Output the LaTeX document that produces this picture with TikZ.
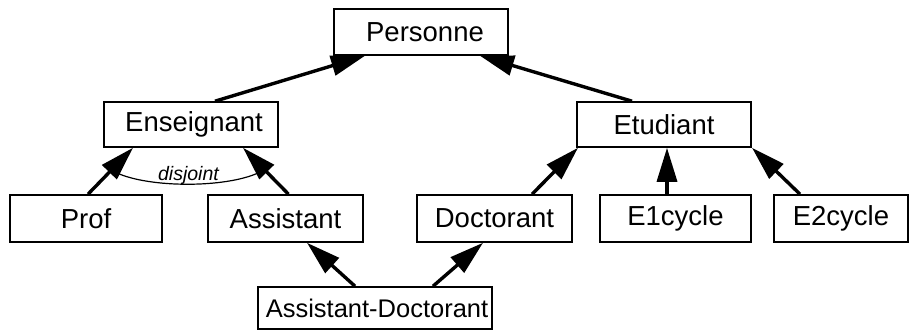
\documentclass[tikz,border=0pt]{standalone}
\usepackage{fontspec}
\setmainfont{Liberation Sans}
\usetikzlibrary{arrows.meta}
\begin{document}
\begin{tikzpicture}[x=1pt,y=-1pt,
  classbox/.style={draw, line width=1.6pt, rectangle, inner sep=0pt,
    font=\fontsize{27.5}{31}\selectfont},
  isa/.style={line width=3.4pt, -{Triangle[length=34pt,width=20pt]}},
  lbl/.style={font=\fontsize{19.5}{22}\selectfont\itshape, inner sep=0pt}]
  \useasboundingbox (0,0) rectangle (910,331);

  % classes
  \node[classbox, minimum width=174pt, minimum height=46pt] (pers) at (421,32) {\hspace*{8pt}Personne};
  \node[classbox, minimum width=174pt, minimum height=45pt] (ens) at (191,124.5) {\hspace*{6pt}Enseignant};
  \node[classbox, minimum width=174pt, minimum height=45pt] (etud) at (664,124.5) {Etudiant};
  \node[classbox, minimum width=152pt, minimum height=47pt] (prof) at (86,218.5) {Prof};
  \node[classbox, minimum width=155pt, minimum height=47pt] (asst) at (285.5,218.5) {Assistant};
  \node[classbox, minimum width=155pt, minimum height=47pt] (doct) at (494.5,218.5) {Doctorant};
  \node[classbox, minimum width=151pt, minimum height=47pt] (eone) at (675.5,218.5) {E1cycle};
  \node[classbox, minimum width=134pt, minimum height=47pt] (etwo) at (841,218.5) {E2cycle};
  \node[classbox, minimum width=234pt, minimum height=42pt, font=\fontsize{25.5}{30}\selectfont] (ad) at (375,308) {\hspace*{4pt}Assistant-Doctorant};

  % generalisation links
  \draw[isa] ([xshift=24pt]ens.north) -- ([xshift=-56pt]pers.south);
  \draw[isa] ([xshift=-32pt]etud.north) -- ([xshift=59pt]pers.south);
  \draw[isa] ([xshift=2pt]prof.north) -- ([xshift=-58pt]ens.south);
  \draw[isa] ([xshift=3pt]asst.north) -- ([xshift=52pt]ens.south);
  \draw[isa] ([xshift=37.5pt]doct.north) -- ([xshift=-86pt]etud.south);
  \draw[isa] ([xshift=-8.5pt]eone.north) -- ([xshift=3pt]etud.south);
  \draw[isa] ([xshift=-41pt]etwo.north) -- ([xshift=88pt]etud.south);
  \draw[isa] ([xshift=-20pt]ad.north) -- ([xshift=21.5pt]asst.south);
  \draw[isa] ([xshift=58pt]ad.north) -- ([xshift=-11.5pt]doct.south);

  % disjointness constraint
  \coordinate (djA) at (117,173);
  \coordinate (djB) at (258,173);
  \draw[line width=1.2pt] (djA) .. controls (150,188) and (225,188) .. (djB);
  \node[lbl, anchor=base] (dj) at (188.5,181) {disjoint};
\end{tikzpicture}
\end{document}
